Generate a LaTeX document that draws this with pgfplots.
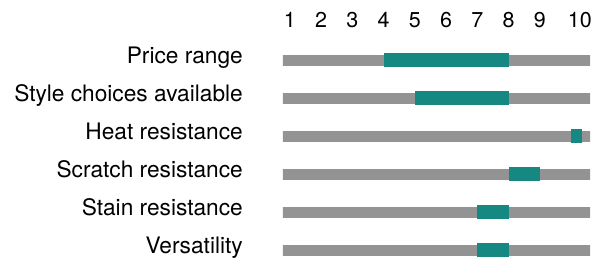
\documentclass[border=0pt]{standalone}
\usepackage{pgfplots}
\pgfplotsset{compat=1.18}
\usepackage{fontspec}
\setmainfont{TeX Gyre Heros}
\definecolor{bggray}{HTML}{939393}
\definecolor{tealbar}{HTML}{158882}
\begin{document}
\begin{tikzpicture}
\begin{axis}[
  at={(283pt,0pt)}, anchor=south west,
  scale only axis, width=307pt, height=216.6pt,
  xmin=0.784, xmax=10.608, ymin=0.5, ymax=6.2, y dir=reverse,
  axis line style={draw=none}, major tick length=0pt,
  xtick={1,2,3,4,5,6,7,8,9,10.28},
  xticklabels={1,2,3,4,5,6,7,8,9,10},
  xticklabel pos=upper,
  xticklabel style={anchor=center, yshift=21.5pt, font=\fontsize{21.5}{25}\selectfont},
  ytick={1,2,3,4,5,6},
  yticklabels={Price range, Style choices available, Heat resistance, Scratch resistance, Stain resistance, Versatility},
  yticklabel style={anchor=base east, xshift=-40pt, yshift=-3.5pt, inner sep=0pt, font=\fontsize{22.7}{27}\selectfont},
]
\addplot[bggray, line width=11pt, forget plot] coordinates {(0,1) (11,1)};
\addplot[bggray, line width=11pt, forget plot] coordinates {(0,2) (11,2)};
\addplot[bggray, line width=11pt, forget plot] coordinates {(0,3) (11,3)};
\addplot[bggray, line width=11pt, forget plot] coordinates {(0,4) (11,4)};
\addplot[bggray, line width=11pt, forget plot] coordinates {(0,5) (11,5)};
\addplot[bggray, line width=11pt, forget plot] coordinates {(0,6) (11,6)};
\addplot[tealbar, line width=14pt] coordinates {(4,1) (8,1)};
\addplot[tealbar, line width=14pt] coordinates {(5,2) (8,2)};
\addplot[tealbar, line width=14pt] coordinates {(10,3) (10.35,3)};
\addplot[tealbar, line width=14pt] coordinates {(8,4) (9,4)};
\addplot[tealbar, line width=14pt] coordinates {(7,5) (8,5)};
\addplot[tealbar, line width=14pt] coordinates {(7,6) (8,6)};
\end{axis}
\pgfresetboundingbox
\path[use as bounding box] (0pt,0pt) rectangle (592pt,258pt);
\end{tikzpicture}
\end{document}
